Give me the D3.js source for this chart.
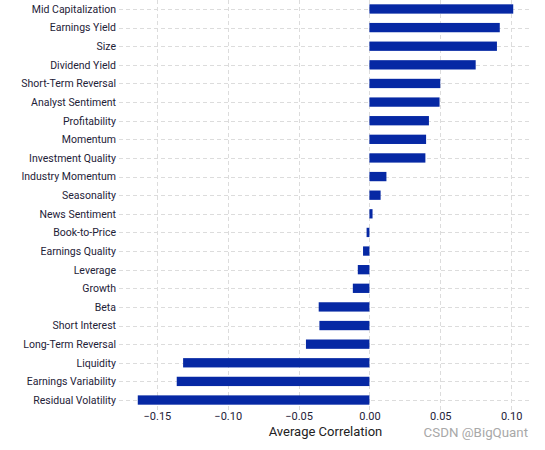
<!DOCTYPE html>
<html>
<head>
<meta charset="utf-8">
<script src="https://cdn.jsdelivr.net/npm/d3@7"></script>
<style>
  html, body { margin: 0; padding: 0; background: #fff; }
  svg { display: block; }
</style>
</head>
<body>
<script>
const categories = [
  "Mid Capitalization", "Earnings Yield", "Size", "Dividend Yield",
  "Short-Term Reversal", "Analyst Sentiment", "Profitability", "Momentum",
  "Investment Quality", "Industry Momentum", "Seasonality", "News Sentiment",
  "Book-to-Price", "Earnings Quality", "Leverage", "Growth", "Beta",
  "Short Interest", "Long-Term Reversal", "Liquidity", "Earnings Variability",
  "Residual Volatility"
];
const correlations = [
  0.1015, 0.092, 0.090, 0.075,
  0.050, 0.0495, 0.042, 0.040,
  0.0395, 0.012, 0.0079, 0.0022,
  -0.002, -0.0045, -0.0082, -0.0117, -0.0358,
  -0.0353, -0.0448, -0.1315, -0.136,
  -0.1635
];
const xTicks = [-0.15, -0.10, -0.05, 0.00, 0.05, 0.10];
const xTitle = "Average Correlation";
const watermark = "CSDN @BigQuant";

(function () {
const W = 545, H = 450;
const svg = d3.select("body").append("svg").attr("width", W).attr("height", H);

const pLeft = 119, pRight = 532, pTop = -2.2, pBottom = 411.2;
const minV = d3.min(correlations), maxV = d3.max(correlations);
const pad = (maxV - minV) * 0.05;
const x = d3.scaleLinear().domain([minV - pad, maxV + pad]).range([pLeft, pRight]);
const y = d3.scalePoint().domain(categories).range([pTop, pBottom]).padding(0.6);
const step = y.step();

const grid = svg.append("g").attr("stroke", "#dcdcdc").attr("stroke-width", 1).attr("stroke-dasharray", "4,3");
grid.selectAll("line.v").data(xTicks).join("line")
  .attr("x1", d => Math.round(x(d)) + 0.5).attr("x2", d => Math.round(x(d)) + 0.5)
  .attr("y1", 0).attr("y2", pBottom);
grid.selectAll("line.h").data(categories).join("line")
  .attr("x1", pLeft).attr("x2", pRight)
  .attr("y1", d => Math.round(y(d)) + 0.5).attr("y2", d => Math.round(y(d)) + 0.5);

const data = categories.map((c, i) => ({c, v: correlations[i]}));
svg.append("g").selectAll("rect").data(data).join("rect")
  .attr("x", d => x(Math.min(0, d.v)))
  .attr("width", d => Math.abs(x(d.v) - x(0)))
  .attr("y", d => y(d.c) - step * 0.25)
  .attr("height", step * 0.5)
  .attr("fill", "#0628a4");

const yAxis = svg.append("g").attr("transform", `translate(${pLeft},0)`)
  .call(d3.axisLeft(y).tickSize(0).tickPadding(3));
yAxis.select(".domain").remove();
yAxis.selectAll("text").attr("font-family", "Roboto").attr("font-size", "10.5px").attr("fill", "#1e2238");

const xAxis = svg.append("g").attr("transform", `translate(0,${pBottom})`)
  .call(d3.axisBottom(x).tickValues(xTicks).tickSize(0).tickPadding(1)
    .tickFormat(d => d3.format(".2f")(d).replace("-", "\u2212")));
xAxis.select(".domain").remove();
xAxis.selectAll("text").attr("font-family", "Roboto").attr("font-size", "11px").attr("fill", "#1e2238");

svg.append("text").attr("x", (pLeft + pRight) / 2).attr("y", 436)
  .attr("text-anchor", "middle").attr("font-family", "Roboto").attr("font-size", "13px")
  .attr("fill", "#222").text(xTitle);

svg.append("text").attr("x", 528).attr("y", 437)
  .attr("text-anchor", "end").attr("font-family", "Roboto").attr("font-size", "13.3px")
  .attr("fill", "#a8a8a8").text(watermark);
})();
</script>
</body>
</html>
